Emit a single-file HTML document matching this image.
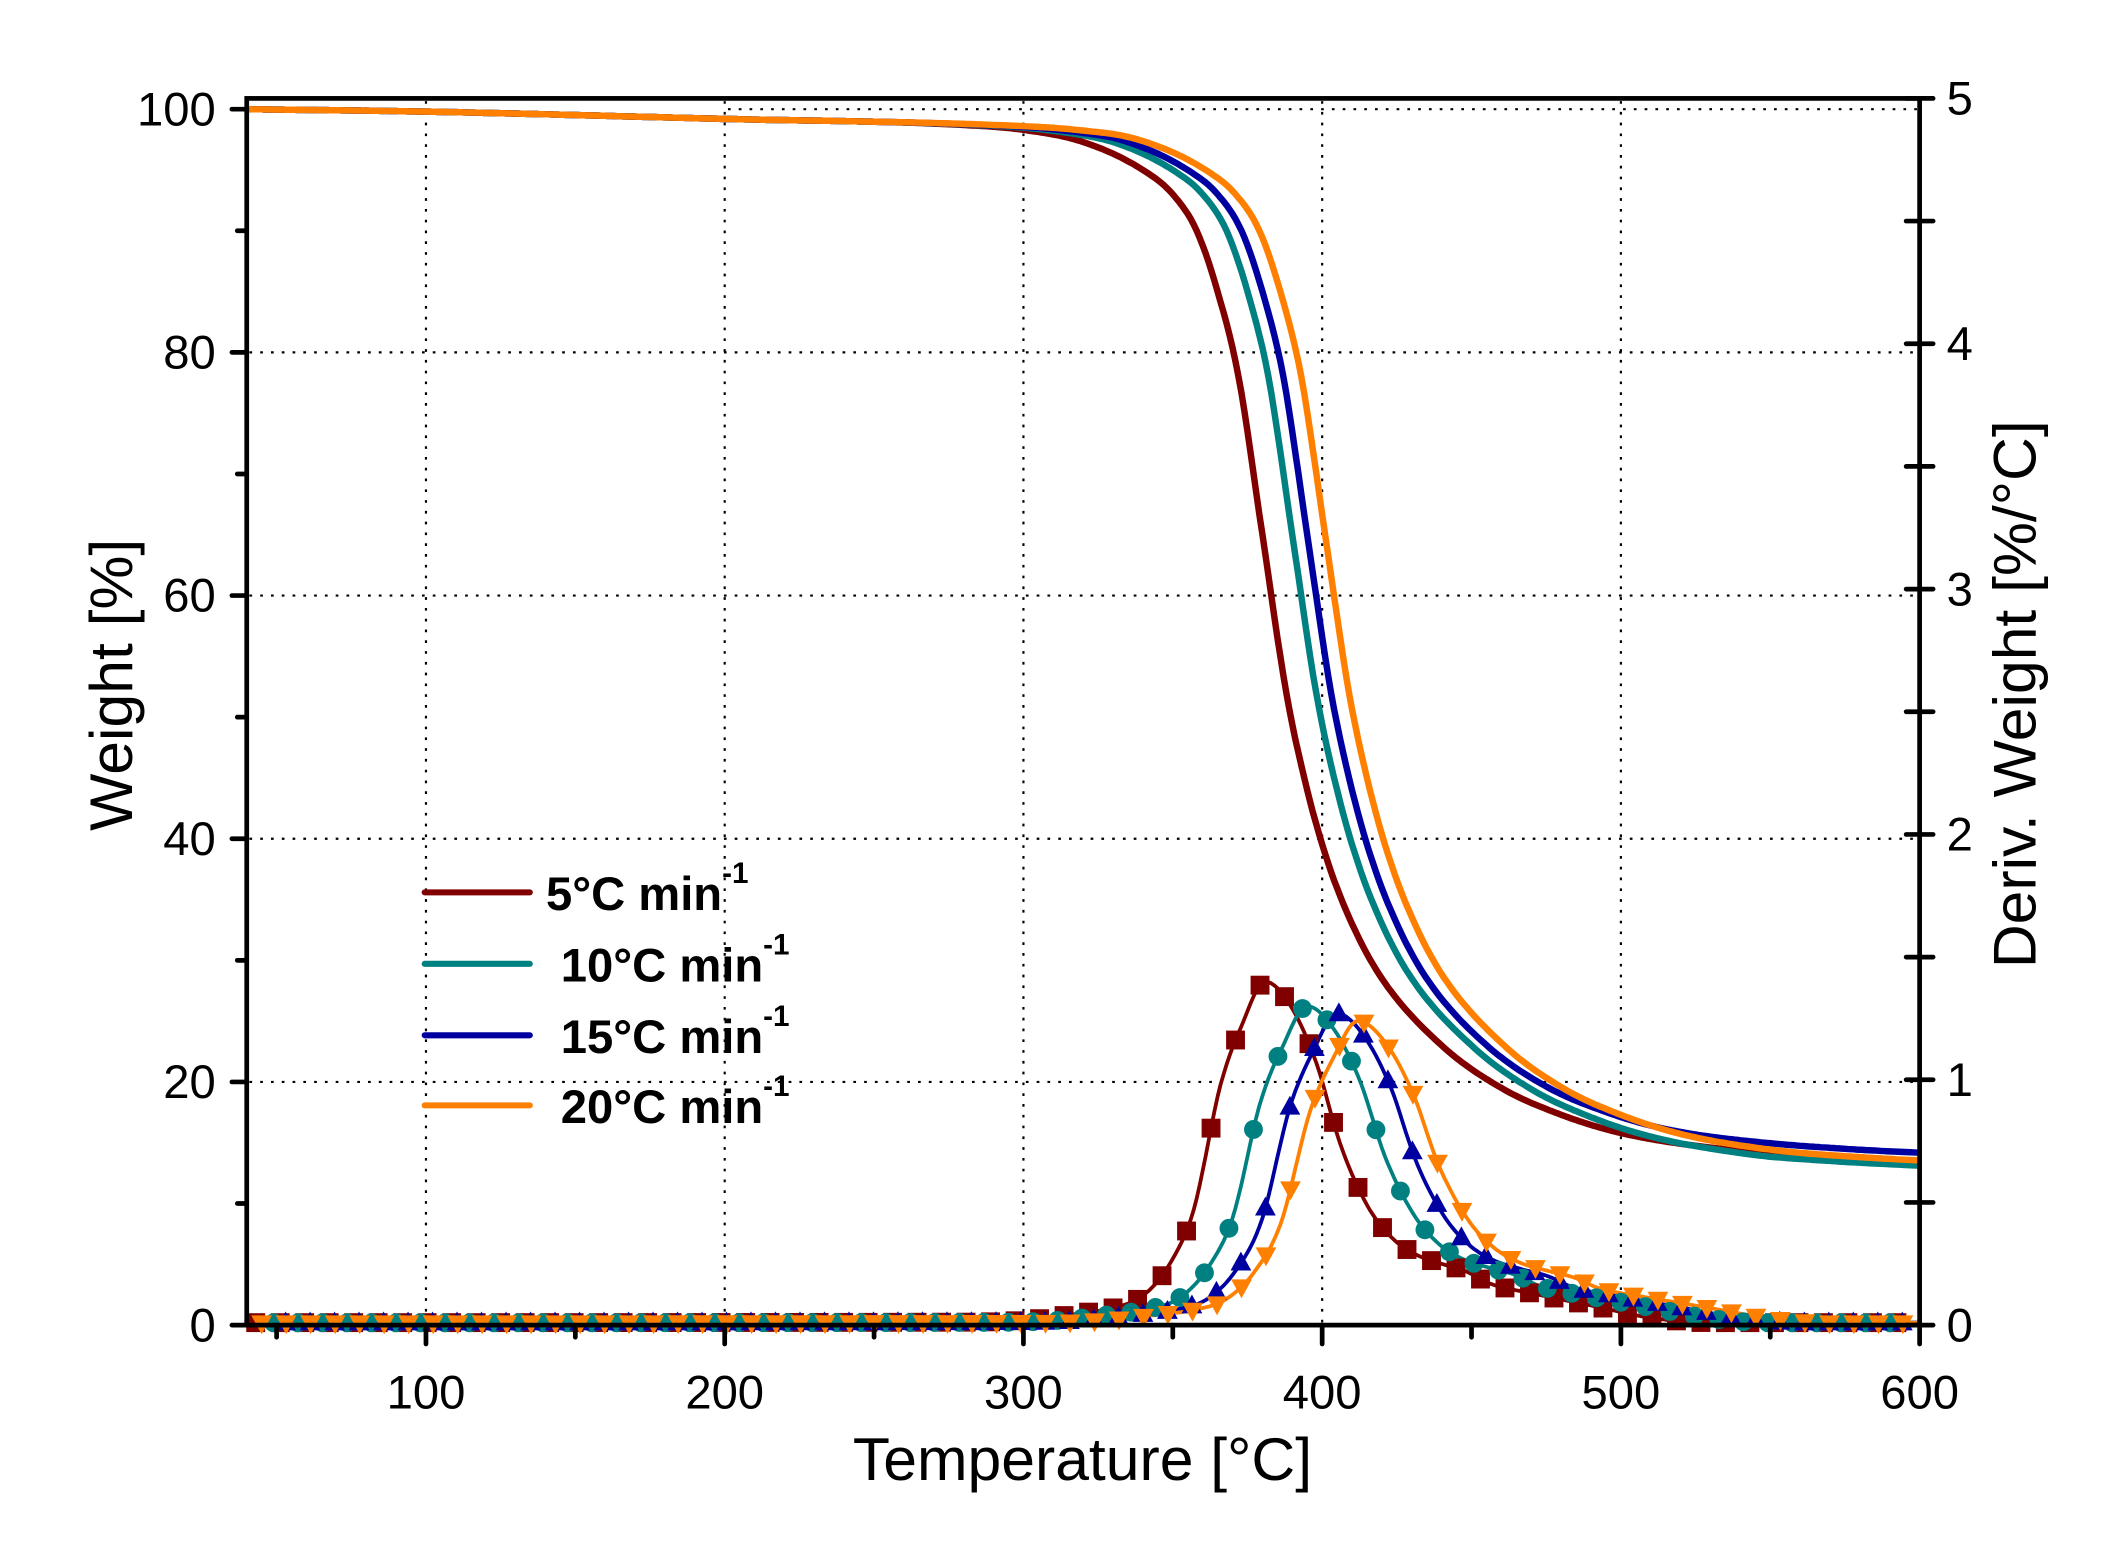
<!DOCTYPE html>
<html><head><meta charset="utf-8"><style>
html,body{margin:0;padding:0;background:#fff;}
svg{display:block;}
text{font-family:"Liberation Sans",Arial,sans-serif;fill:#000;}
</style></head><body>
<svg id="s" width="2103" height="1554" viewBox="0 0 1560 1152.8" xmlns="http://www.w3.org/2000/svg">
<g id="grid" stroke="#000" stroke-width="1.6" stroke-dasharray="2,6" fill="none"></g>
<g id="curves" fill="none" stroke-linejoin="round"></g>
<g id="marks"></g>
<rect x="183" y="73" width="1241" height="910" fill="none" stroke="#000" stroke-width="3.5"/>
<g id="ticks" stroke="#000" stroke-width="3.5" stroke-linecap="round"></g>
<g id="labels" font-size="35"></g>
<text x="803" y="1098" font-size="45" text-anchor="middle">Temperature [°C]</text>
<text transform="translate(98,508) rotate(-90)" font-size="45" text-anchor="middle">Weight [%]</text>
<text transform="translate(1510,515) rotate(-90)" font-size="45" text-anchor="middle">Deriv. Weight [%/°C]</text>
<g id="legend" font-size="35" font-weight="bold">
<line x1="315" y1="662" x2="393" y2="662" stroke="#800000" stroke-width="4.5" stroke-linecap="round"/>
<line x1="315" y1="715" x2="393" y2="715" stroke="#008080" stroke-width="4.5" stroke-linecap="round"/>
<line x1="315" y1="768" x2="393" y2="768" stroke="#0000a0" stroke-width="4.5" stroke-linecap="round"/>
<line x1="315" y1="820" x2="393" y2="820" stroke="#ff8000" stroke-width="4.5" stroke-linecap="round"/>
<text x="405" y="675">5°C min<tspan font-size="22" dy="-20">-1</tspan></text>
<text x="416" y="728">10°C min<tspan font-size="22" dy="-20">-1</tspan></text>
<text x="416" y="781">15°C min<tspan font-size="22" dy="-20">-1</tspan></text>
<text x="416" y="833">20°C min<tspan font-size="22" dy="-20">-1</tspan></text>
</g>
</svg>
<script>
var NS="http://www.w3.org/2000/svg";
function el(p,t,a){var e=document.createElementNS(NS,t);for(var k in a)e.setAttribute(k,a[k]);document.getElementById(p).appendChild(e);return e;}
function X(T){return 183+(T-40)*(1241/560);}
function YW(w){return 983-w*9.02;}
function YD(d){return 983-d*182;}
[100,200,300,400,500].forEach(function(t){el('grid','line',{x1:X(t),y1:75,x2:X(t),y2:981});});
[20,40,60,80].forEach(function(w){el('grid','line',{x1:185,y1:YW(w),x2:1422,y2:YW(w)});});
el('grid','line',{x1:540,y1:YW(100),x2:1422,y2:YW(100)});
for(var w=0;w<=100;w+=10){var maj=w%20==0;el('ticks','line',{x1:183,y1:YW(w),x2:maj?172:176,y2:YW(w)});
 if(maj){var t=el('labels','text',{x:160,y:YW(w)+12,'text-anchor':'end'});t.textContent=w;}}
for(var d=0;d<=5;d+=0.5){var maj=Math.abs(d-Math.round(d))<0.01;el('ticks','line',{x1:1414,y1:YD(d),x2:1434,y2:YD(d)});
 if(maj){var t=el('labels','text',{x:1444,y:YD(d)+12});t.textContent=Math.round(d);}}
for(var T=50;T<=600;T+=50){var maj=T%100==0;el('ticks','line',{x1:X(T),y1:983,x2:X(T),y2:maj?997:992});
 if(maj){var t=el('labels','text',{x:X(T),y:1045,'text-anchor':'middle'});t.textContent=T;}}
function interp(tab){var n=tab.length,xs=tab.map(function(p){return p[0]}),ys=tab.map(function(p){return p[1]}),m=[],dl=[];
 for(var i=0;i<n-1;i++)dl.push((ys[i+1]-ys[i])/(xs[i+1]-xs[i]));
 m[0]=dl[0];m[n-1]=dl[n-2];
 for(i=1;i<n-1;i++){m[i]=(dl[i-1]*dl[i]<=0)?0:(dl[i-1]+dl[i])/2;}
 for(i=0;i<n-1;i++){if(dl[i]==0){m[i]=m[i+1]=0;continue;}var a=m[i]/dl[i],b=m[i+1]/dl[i],s=a*a+b*b;if(s>9){var tt=3/Math.sqrt(s);m[i]=tt*a*dl[i];m[i+1]=tt*b*dl[i];}}
 return function(x){if(x<=xs[0])return ys[0];if(x>=xs[n-1])return ys[n-1];var i=0;while(xs[i+1]<x)i++;var h=xs[i+1]-xs[i],t=(x-xs[i])/h,t2=t*t,t3=t2*t;
  return (2*t3-3*t2+1)*ys[i]+(t3-2*t2+t)*h*m[i]+(-2*t3+3*t2)*ys[i+1]+(t3-t2)*h*m[i+1];};}
var W5=interp([[40,100],[100,99.8],[200,99.2],[280,98.7],[300,98.3],[320,97.3],[340,95],[350,93],[358,90],[365,85],[372,78],[380,65],[388,52],[395,44],[402,38],[410,33],[420,28.5],[440,23],[460,19.5],[480,17.3],[500,15.8],[530,14.6],[560,14],[600,13.5]]);
var D5=interp([[40,0.01],[280,0.012],[300,0.02],[320,0.05],[330,0.07],[340,0.12],[349,0.25],[357,0.47],[366,0.98],[373,1.22],[381,1.40],[389,1.31],[398,1.07],[406,0.74],[415,0.49],[423,0.36],[431,0.29],[440,0.25],[448,0.22],[456,0.17],[470,0.13],[490,0.08],[510,0.03],[530,0.01],[600,0.01]]);
var S=[
 {c:'#800000',sh:0,end:13.5,pk:1.40,dsh:0,wd:1,m:'sq',off:0},
 {c:'#008080',sh:10,end:13.0,pk:1.30,dsh:14,wd:0.96,m:'ci',off:3},
 {c:'#0000a0',sh:15,end:14.0,pk:1.27,dsh:24,wd:0.95,m:'tu',off:5},
 {c:'#ff8000',sh:21,end:13.3,pk:1.24,dsh:31,wd:0.93,m:'td',off:1}];
function Wk(s,T){var r=Math.min(1,Math.max(0,(T-250)/80));var w=W5(T-s.sh*r);
 var b=Math.min(1,Math.max(0,(T-450)/100));return w+(s.end-13.5)*b;}
function Dk(s,T){var Tp=381+s.dsh;var Tq=381+(T-Tp)*s.wd;return D5(Tq)*s.pk/1.40;}
S.forEach(function(s){
 var p='',q='';for(var T=40;T<=600;T+=1){p+=(T==40?'M':'L')+X(T).toFixed(1)+','+YW(Wk(s,T)).toFixed(1);q+=(T==40?'M':'L')+X(T).toFixed(1)+','+YD(Dk(s,T)).toFixed(1);}
 el('curves','path',{d:q,stroke:s.c,'stroke-width':2.8});
 el('curves','path',{d:p,stroke:s.c,'stroke-width':4.8});
});
S.forEach(function(s){
 for(var T=43+s.off*2;T<=598;T+=8.2){var x=X(T),y=YD(Dk(s,T)),r=7;
  if(s.m=='sq')el('marks','rect',{x:x-r,y:y-r,width:2*r,height:2*r,fill:s.c});
  else if(s.m=='ci')el('marks','circle',{cx:x,cy:y,r:r,fill:s.c});
  else if(s.m=='tu')el('marks','polygon',{points:(x)+','+(y-r*1.2)+' '+(x-r*1.1)+','+(y+r*0.8)+' '+(x+r*1.1)+','+(y+r*0.8),fill:s.c});
  else el('marks','polygon',{points:(x)+','+(y+r*1.2)+' '+(x-r*1.1)+','+(y-r*0.8)+' '+(x+r*1.1)+','+(y-r*0.8),fill:s.c});}
});
</script>
</body></html>
